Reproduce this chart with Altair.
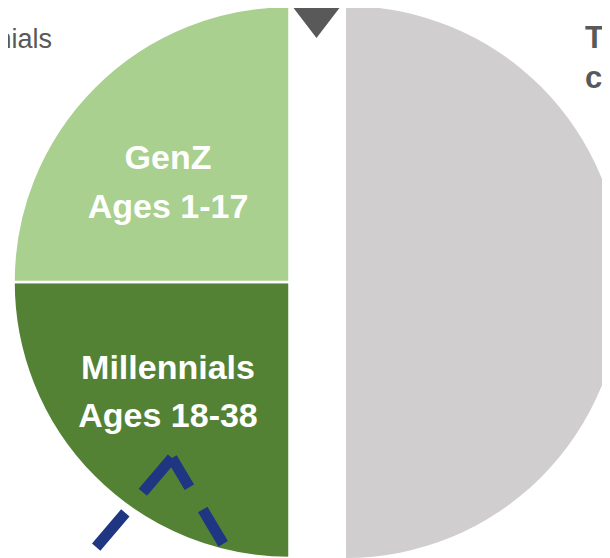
import math
import altair as alt
import pandas as pd

# ---- data ----
segments = ["Others", "Millennials", "GenZ"]
shares = [50, 25, 25]
sides = ["right", "left", "left"]
colors = ["#d0cece", "#548235", "#a9d08e"]

label_line1 = ["GenZ", "Millennials"]
label_line2 = ["Ages 1-17", "Ages 18-38"]

# annotation arrow (dashed chevron) points, in plot pixels
dash_left_x = [164, 67]
dash_left_y = [450, 564]
dash_right_x = [164, 226]
dash_right_y = [450, 554]

W, H = 594, 560
R = 276
CY = 274
CX_LEFT = 281.5
CX_RIGHT = 338

seg_df = pd.DataFrame({"segment": segments, "share": shares, "side": sides,
                       "order": list(range(len(segments)))})

color_scale = alt.Scale(domain=segments, range=colors)

base = alt.Chart(seg_df).transform_stack(
    stack="share", groupby=[], as_=["start", "end"], sort=[alt.SortField("order")]
)

def half(side, cx, stroke_w):
    return base.transform_filter(alt.datum.side == side).mark_arc(
        outerRadius=R, stroke="white", strokeWidth=stroke_w
    ).encode(
        theta=alt.Theta("start:Q", scale=alt.Scale(domain=[0, 100], range=[0, 2 * math.pi])),
        theta2="end:Q",
        color=alt.Color("segment:N", scale=color_scale, legend=None),
        x=alt.value(cx),
        y=alt.value(CY),
    )

left = half("left", CX_LEFT, 2.5)
right = half("right", CX_RIGHT, 0)

FONT = "Liberation Sans, Arial, Helvetica"

def label(txt, x, y):
    return alt.Chart(pd.DataFrame({"t": [txt]})).mark_text(
        font=FONT, fontSize=34, fontWeight="bold", color="white",
        align="center", baseline="alphabetic"
    ).encode(text="t:N", x=alt.value(x), y=alt.value(y))

labels = (label(label_line1[0], 160, 161) + label(label_line2[0], 160, 210)
          + label(label_line1[1], 160, 371) + label(label_line2[1], 160, 419))

def side_text(txt, x, y, align, weight, size):
    return alt.Chart(pd.DataFrame({"t": [txt]})).mark_text(
        font=FONT, fontSize=size, fontWeight=weight, color="#595959",
        align=align, baseline="alphabetic"
    ).encode(text="t:N", x=alt.value(x), y=alt.value(y))

texts = (side_text("Millennials", 44, 40, "right", "normal", 27)
         + side_text("The", 577, 40, "left", "bold", 31)
         + side_text("co", 577, 80, "left", "bold", 31))

xs = alt.Scale(domain=[0, W], range=[0, W])
ys = alt.Scale(domain=[0, H], range=[0, H])

def dash_line(xv, yv, dash):
    df = pd.DataFrame({"x": xv, "y": yv, "i": list(range(len(xv)))})
    return alt.Chart(df).mark_line(
        color="#1f3782", strokeWidth=11, strokeDash=dash, strokeCap="butt"
    ).encode(
        x=alt.X("x:Q", scale=xs, axis=None),
        y=alt.Y("y:Q", scale=ys, axis=None),
        order="i:O",
    )

dashes = dash_line(dash_left_x, dash_left_y, [45, 27]) + dash_line(dash_right_x, dash_right_y, [34, 26, 40, 26])

arrow_path = ("M-0.4,-1.6 L0.4,-1.6 L0.4,-0.41 L1,-0.41 L0,0.9 "
              "L-1,-0.41 L-0.4,-0.41 Z")
arrow = alt.Chart(pd.DataFrame({"a": [1]})).mark_point(
    shape=arrow_path, filled=True, color="#595959", opacity=1, size=49 * 49, strokeWidth=0
).encode(x=alt.value(308.5), y=alt.value(8))

chart = alt.layer(left, right, labels, texts, dashes, arrow).properties(
    width=W, height=H, padding=0, autosize=alt.AutoSizeParams(type="none")
).configure_view(stroke=None)

chart.save("out.html", embed_options={"renderer": "svg", "actions": False})
